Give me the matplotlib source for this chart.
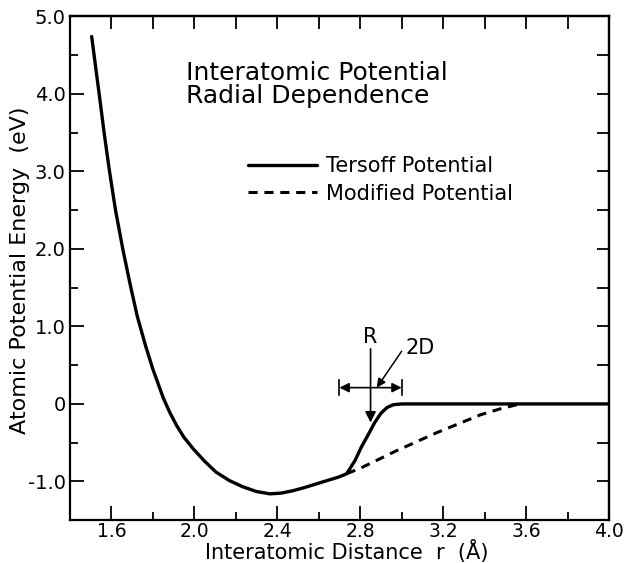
import numpy as np
import matplotlib
matplotlib.use("Agg")
import matplotlib.pyplot as plt

# Tersoff potential
r_tersoff = [1.505, 1.525, 1.545, 1.565, 1.59, 1.62, 1.655, 1.69, 1.725, 1.765,
             1.80, 1.85, 1.88, 1.915, 1.95, 1.995, 2.05, 2.105, 2.17, 2.235,
             2.30, 2.365, 2.42, 2.475, 2.53, 2.59, 2.645, 2.70, 2.735, 2.775,
             2.805, 2.84, 2.87, 2.90, 2.93, 2.96, 3.0, 4.0]
e_tersoff = [4.74, 4.33, 3.92, 3.50, 3.02, 2.5, 2.0, 1.55, 1.13, 0.75,
             0.45, 0.08, -0.10, -0.28, -0.43, -0.58, -0.74, -0.88, -0.99, -1.07,
             -1.13, -1.16, -1.15, -1.12, -1.08, -1.03, -0.985, -0.94, -0.90, -0.73,
             -0.56, -0.39, -0.24, -0.12, -0.045, -0.01, 0.0, 0.0]

# modified potential, branches off at the kink
r_modified = [2.735, 2.80, 2.87, 2.97, 3.07, 3.17, 3.28, 3.38, 3.48, 3.57]
e_modified = [-0.90, -0.83, -0.74, -0.61, -0.49, -0.37, -0.25, -0.14, -0.06, 0.0]

R_cut = 2.85
D_cut = 0.15

x_ticks = [1.6, 2.0, 2.4, 2.8, 3.2, 3.6, 4.0]
x_ticklabels = ["1.6", "2.0", "2.4", "2.8", "3.2", "3.6", "4.0"]
y_ticks = [-1.0, 0.0, 1.0, 2.0, 3.0, 4.0, 5.0]
y_ticklabels = ["-1.0", "0", "1.0", "2.0", "3.0", "4.0", "5.0"]

plt.rcParams["font.family"] = ["DejaVu Sans"]

fig = plt.figure(figsize=(6.24, 5.63), dpi=100)
ax = fig.add_axes([0.112, 0.076, 0.864, 0.895])

ax.plot(r_tersoff, e_tersoff, color="black", lw=2.4, label="Tersoff Potential",
        solid_capstyle="round", solid_joinstyle="round", zorder=3)
ax.plot(r_modified, e_modified, color="black", lw=2.2, ls=(0, (3.0, 2.2)),
        label="Modified Potential", zorder=2)

ax.set_xlim(1.4, 4.0)
ax.set_ylim(-1.5, 5.0)

ax.set_xticks(x_ticks)
ax.set_xticklabels(x_ticklabels)
ax.set_xticks(np.arange(1.8, 4.0, 0.4), minor=True)
ax.set_yticks(y_ticks)
ax.set_yticklabels(y_ticklabels)
ax.set_yticks(np.arange(-0.5, 5.0, 1.0), minor=True)

ax.tick_params(which="both", direction="in", top=False, right=False,
               labelsize=14, width=1.3)
ax.tick_params(axis="x", which="both", pad=1, labelsize=13.5)
ax.tick_params(axis="y", which="both", pad=3)
ax.tick_params(which="major", length=10)
ax.tick_params(which="minor", length=6)

for s in ax.spines.values():
    s.set_linewidth(1.6)

# top and right: equal-length ticks, no labels
top = ax.secondary_xaxis("top")
top.set_xticks(np.arange(1.6, 4.01, 0.2))
top.tick_params(direction="in", length=9, width=1.3, labeltop=False)
top.spines["top"].set_linewidth(1.6)
right = ax.secondary_yaxis("right")
right.set_yticks(np.arange(-1.0, 5.01, 0.5))
right.tick_params(direction="in", length=9, width=1.3, labelright=False)
right.spines["right"].set_linewidth(1.6)

ax.set_xlabel("Interatomic Distance  r  (Å)", fontsize=15)
ax.xaxis.set_label_coords(0.514, -0.040)
ax.set_ylabel("Atomic Potential Energy  (eV)", fontsize=16)
ax.yaxis.set_label_coords(-0.074, 0.496)

ax.text(0.215, 0.912, "Interatomic Potential\nRadial Dependence",
        transform=ax.transAxes, fontsize=18, ha="left", va="top",
        linespacing=0.95)

ax.legend(loc="upper left", bbox_to_anchor=(0.330, 0.722), frameon=False,
          fontsize=15, handlelength=3.3, handletextpad=0.45,
          labelspacing=0.35, borderpad=0, borderaxespad=0)

# cutoff annotation: R and 2D
ax.annotate("", xy=(R_cut, -0.24), xytext=(R_cut, 0.71),
            arrowprops=dict(arrowstyle="-|>", color="black", lw=1.2,
                            mutation_scale=16, shrinkA=0, shrinkB=0))
ax.text(R_cut, 0.86, "R", fontsize=15, ha="center", va="center")
ax.annotate("", xy=(R_cut - D_cut, 0.21), xytext=(R_cut + D_cut, 0.21),
            arrowprops=dict(arrowstyle="<|-|>", color="black", lw=1.2,
                            mutation_scale=14, shrinkA=0, shrinkB=0))
ax.plot([R_cut - D_cut, R_cut - D_cut], [0.11, 0.31], color="black", lw=1.2)
ax.plot([R_cut + D_cut, R_cut + D_cut], [0.11, 0.31], color="black", lw=1.2)
ax.text(3.09, 0.72, "2D", fontsize=15, ha="center", va="center")
ax.annotate("", xy=(2.88, 0.21), xytext=(3.0, 0.68),
            arrowprops=dict(arrowstyle="-|>", color="black", lw=1.1,
                            mutation_scale=13, shrinkA=0, shrinkB=0))

fig.savefig("out.png", dpi=100)
